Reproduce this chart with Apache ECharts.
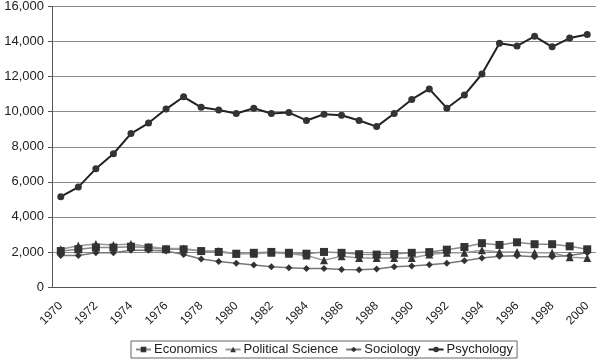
<!DOCTYPE html>
<html><head><meta charset="utf-8">
<script src="https://cdn.jsdelivr.net/npm/echarts@6/dist/echarts.min.js"></script>
<style>html,body{margin:0;padding:0;background:#fff}#c{width:600px;height:359px}</style>
</head><body><div id="c"></div>
<script>
var years = ['1970','1971','1972','1973','1974','1975','1976','1977','1978','1979','1980','1981','1982','1983','1984','1985','1986','1987','1988','1989','1990','1991','1992','1993','1994','1995','1996','1997','1998','1999','2000'];
var economics = [2050,2150,2250,2250,2300,2250,2150,2150,2050,2000,1900,1950,2000,1950,1900,2000,1950,1870,1850,1880,1950,1990,2130,2280,2500,2400,2550,2440,2440,2320,2150];
var politicalScience = [2150,2350,2450,2400,2450,2300,2200,2200,2050,2050,1900,1900,1950,1900,1800,1520,1750,1650,1650,1650,1650,1850,1950,1950,2100,2000,2000,1950,1950,1700,1650];
var sociology = [1800,1800,1950,1950,2100,2100,2050,1850,1600,1450,1350,1250,1150,1100,1050,1050,1000,980,1030,1150,1200,1270,1350,1500,1650,1750,1780,1720,1720,1800,1950];
var psychology = [5150,5700,6750,7600,8750,9350,10150,10850,10250,10100,9900,10200,9900,9950,9500,9850,9800,9500,9150,9900,10700,11300,10200,10950,12150,13900,13750,14300,13700,14200,14400];
var yTicks = {min:0, max:16000, interval:2000};

var chart = echarts.init(document.getElementById('c'));
var font = 'Liberation Sans, Arial, sans-serif';
function s(name, data, sym, size, lineColor, lw){
  return {name:name, type:'line', data:data, symbol:sym, symbolSize:size,
    lineStyle:{color:lineColor, width:lw}, itemStyle:{color:'#333'},
    emphasis:{disabled:true}, animation:false};
}
chart.setOption({
  animation:false,
  grid:{left:52, right:4, top:5, bottom:72},
  xAxis:{type:'category', data:years, boundaryGap:true,
    axisLine:{lineStyle:{color:'#555'}},
    axisTick:{interval:0, lineStyle:{color:'#555'}, length:4},
    axisLabel:{interval:1, rotate:45, color:'#222', fontFamily:font, fontSize:12, margin:17}},
  yAxis:{type:'value', min:yTicks.min, max:yTicks.max, interval:yTicks.interval,
    axisLine:{show:true, lineStyle:{color:'#555'}},
    axisTick:{show:true, length:4, lineStyle:{color:'#555'}},
    splitLine:{lineStyle:{color:'#8a8a8a', width:1}},
    axisLabel:{color:'#222', fontFamily:font, fontSize:13, margin:8,
      formatter:function(v){return v.toLocaleString('en-US');}}},
  legend:{bottom:1, left:131, itemGap:7, itemWidth:15, itemHeight:7,
    padding:[2,4], borderColor:'#666', borderWidth:1, borderRadius:0,
    textStyle:{color:'#222', fontFamily:font, fontSize:13, padding:[0,0,0,-2]},
    data:['Economics','Political Science','Sociology','Psychology']},
  series:[
    s('Economics', economics, 'rect', 8, '#8a8a8a', 1.5),
    s('Political Science', politicalScience, 'triangle', 8, '#9a9a9a', 1.5),
    s('Sociology', sociology, 'diamond', 7, '#777', 1.5),
    s('Psychology', psychology, 'circle', 7, '#222', 2)
  ]
});
</script></body></html>
